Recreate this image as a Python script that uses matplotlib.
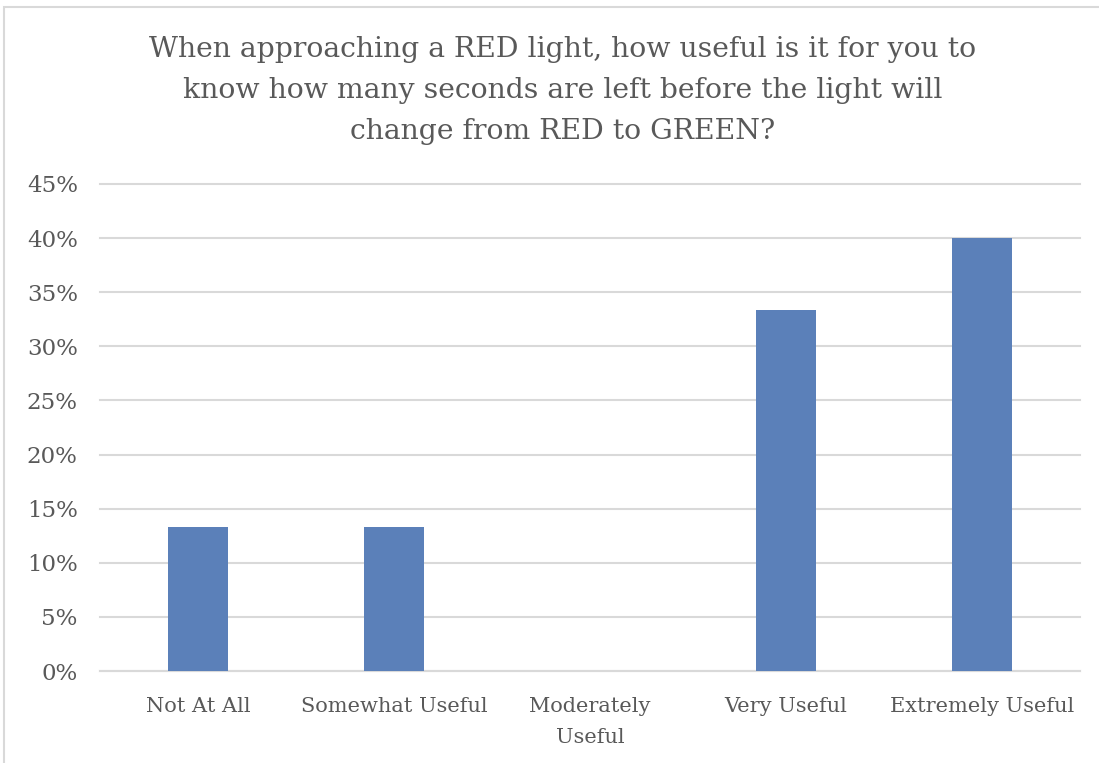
import matplotlib.pyplot as plt
from matplotlib.patches import Rectangle
from matplotlib.ticker import FuncFormatter

categories = ['Not At All', 'Somewhat Useful', 'Moderately\nUseful',
              'Very Useful', 'Extremely Useful']
values = [0.1333, 0.1333, 0.0, 0.3333, 0.40]
yticks = [0, 0.05, 0.10, 0.15, 0.20, 0.25, 0.30, 0.35, 0.40, 0.45]
title = ('When approaching a RED light, how useful is it for you to\n'
         'know how many seconds are left before the light will\n'
         'change from RED to GREEN?')

txt = '#595959'
plt.rcParams['font.family'] = ['DejaVu Serif']

fig = plt.figure(figsize=(10.99, 7.63), dpi=100)
fig.set_facecolor('white')
fig.patches.append(Rectangle((4/1099, -0.01), 1.02, 1 - 7/763 + 0.01,
                             transform=fig.transFigure, fill=False,
                             edgecolor='#d9d9d9', lw=1.5))

ax = fig.add_axes([100/1099, 1 - 671/763, 980/1099, (671 - 184)/763])
x = range(len(categories))
ax.bar(x, values, width=0.31, color='#5b80b9', zorder=3)
ax.set_xlim(-0.5, len(categories) - 0.5)
ax.set_ylim(0, 0.45)
ax.set_yticks(yticks)
ax.yaxis.set_major_formatter(FuncFormatter(lambda v, p: '%d%%' % round(v*100)))
ax.set_xticks(list(x))
ax.set_xticklabels(categories, linespacing=1.8)
ax.grid(axis='y', color='#d9d9d9', lw=1.5, zorder=0)
for gl in ax.get_ygridlines():
    gl.set_clip_on(False)
for s in ['top', 'right', 'left']:
    ax.spines[s].set_visible(False)
ax.spines['bottom'].set_color('#d9d9d9')
ax.spines['bottom'].set_linewidth(1.5)
ax.tick_params(axis='x', length=0, labelsize=15, colors=txt, pad=18.5)
ax.tick_params(axis='y', length=0, labelsize=16.5, colors=txt, pad=16)

fig.text(563/1099, 1 - 90.5/763, title, ha='center', va='center',
         fontsize=20.3, color=txt, linespacing=1.66)

plt.savefig('out.png', dpi=100)
